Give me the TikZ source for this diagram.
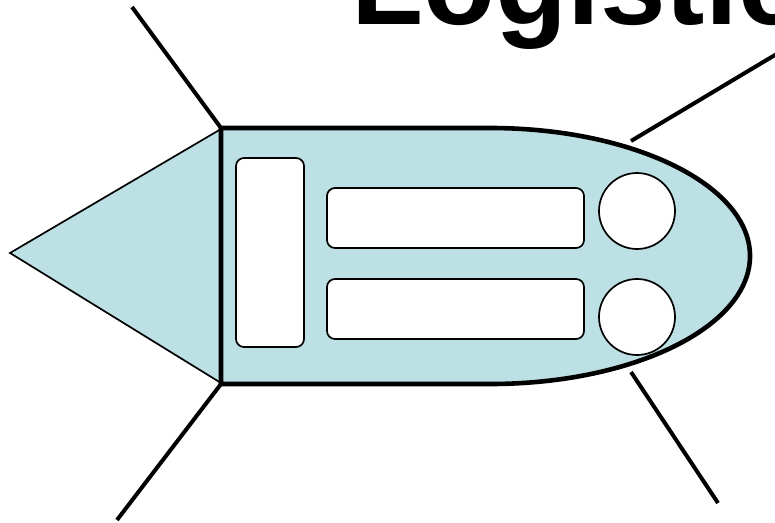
\documentclass[tikz,border=0pt]{standalone}
\usepackage{fontspec}
\setmainfont{Liberation Sans}
\definecolor{bodyfill}{RGB}{188,224,228}
\begin{document}
\begin{tikzpicture}[x=1pt,y=-1pt,
  hull/.style={fill=bodyfill,draw=black,line width=4.6pt,line join=miter},
  nose/.style={fill=bodyfill,draw=black,line width=1.7pt,line join=miter},
  panel/.style={draw=black,fill=white,line width=1.7pt,rounded corners=8pt,inner sep=0pt},
  port/.style={draw=black,fill=white,line width=1.7pt,circle,inner sep=0pt,minimum size=76pt},
  spike/.style={draw=black,line width=4pt},
  titletext/.style={inner sep=0pt,anchor=base west,font=\fontsize{118}{118}\selectfont\bfseries}]
\useasboundingbox (0,0) rectangle (775,522);
\clip (0,0) rectangle (775,522);
% title
\node[titletext] (title) at (351,24) {Logistic};
% corner coordinates of the hull
\coordinate (ntl) at (221,129);
\coordinate (nbl) at (221,383);
\coordinate (tip) at (10,253);
\coordinate (htl) at (221,128);
\coordinate (hbl) at (221,384);
\coordinate (htr) at (631,141);
\coordinate (hbr) at (631,372);
% nose cone
\path[nose] (tip) -- (ntl) -- (nbl) -- cycle;
% hull
\path[hull] (hbl) -- (htl) -- (490,128) arc[start angle=-90,end angle=90,x radius=260,y radius=128] -- cycle;
% windows and ports
\node[panel,minimum width=68pt,minimum height=189pt] (door) at (270,252.5) {};
\node[panel,minimum width=257pt,minimum height=60pt] (win1) at (455.5,218) {};
\node[panel,minimum width=257pt,minimum height=60pt] (win2) at (455.5,309) {};
\node[port] (port1) at (637,211) {};
\node[port] (port2) at (637,317) {};
% spikes
\coordinate (e1) at (132,7);
\coordinate (e2) at (117,520);
\coordinate (e3) at (780,52);
\coordinate (e4) at (718,503);
\draw[spike] (htl) -- (e1);
\draw[spike] (hbl) -- (e2);
\draw[spike] (htr) -- (e3);
\draw[spike] (hbr) -- (e4);
\end{tikzpicture}
\end{document}
